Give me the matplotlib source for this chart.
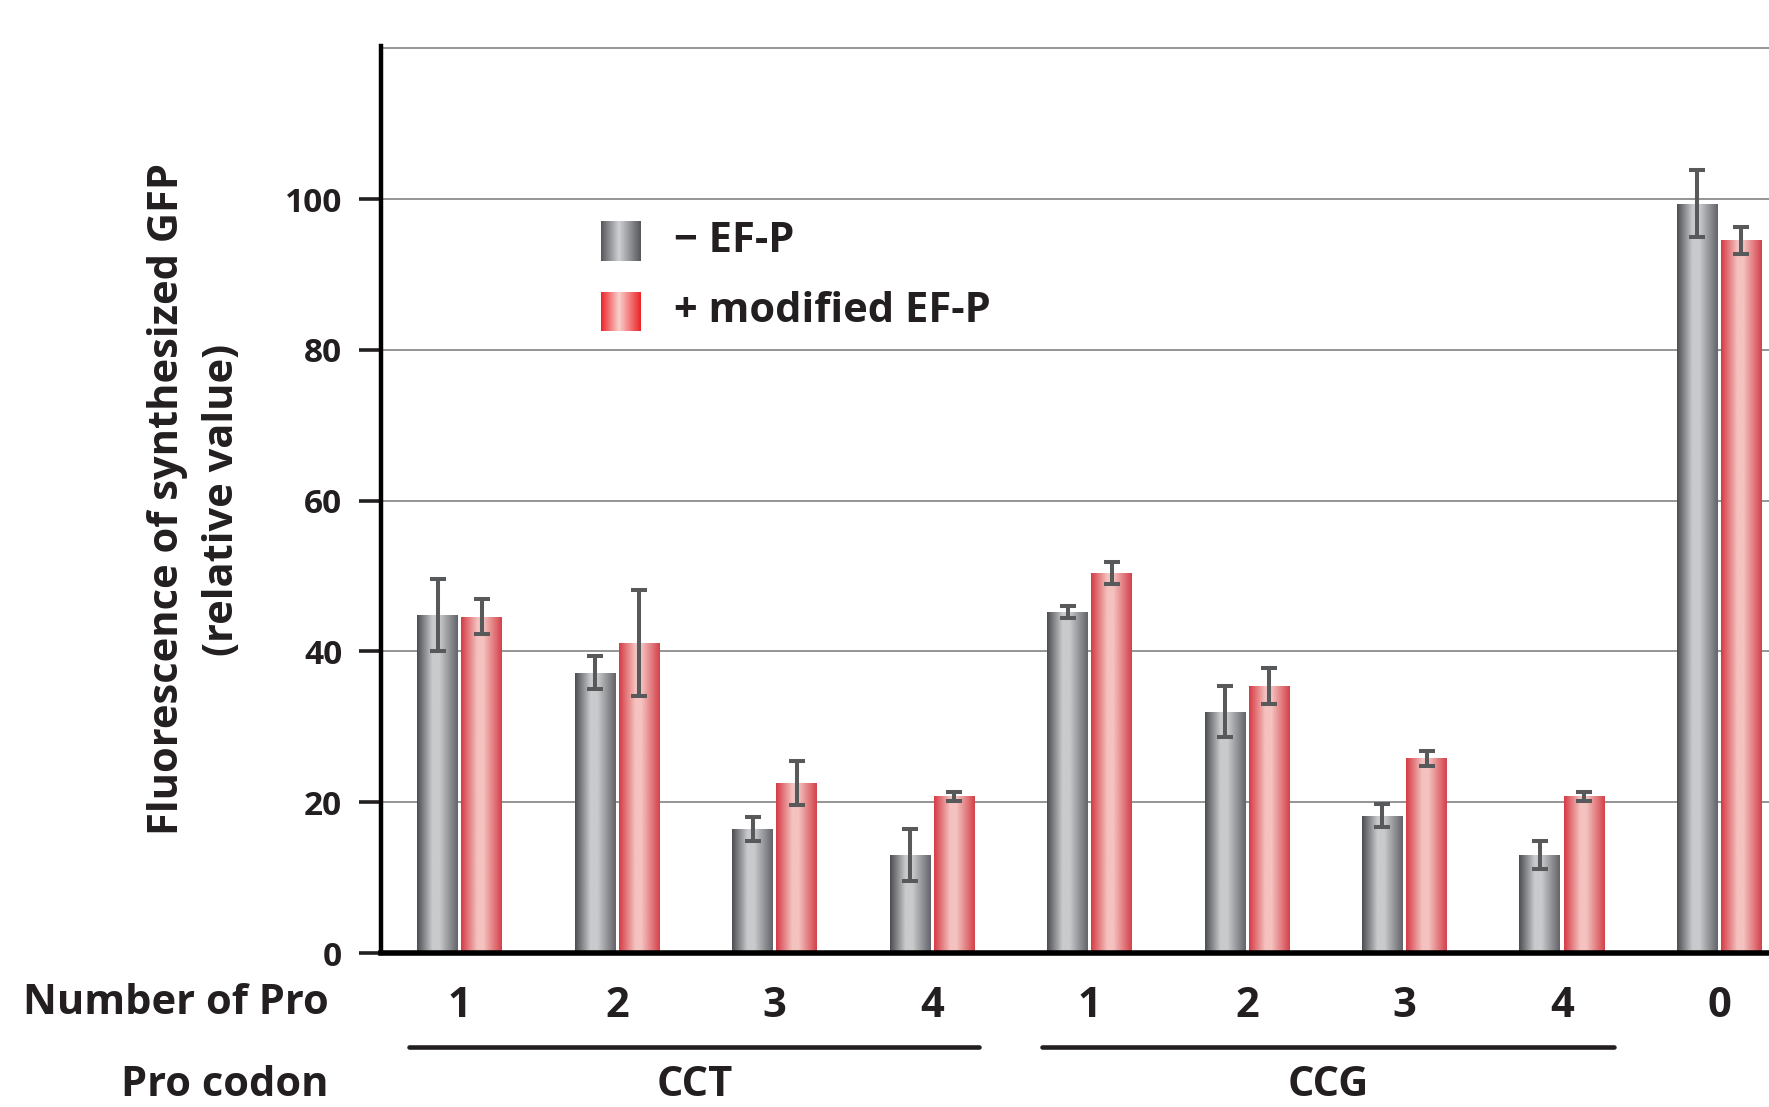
import numpy as np
import matplotlib
matplotlib.use("Agg")
import matplotlib.pyplot as plt
from matplotlib.colors import LinearSegmentedColormap

plt.rcParams['font.family'] = ['Open Sans', 'DejaVu Sans']
plt.rcParams['font.weight'] = 'bold'
plt.rcParams['axes.labelweight'] = 'bold'

# data
num_pro = ['1', '2', '3', '4', '1', '2', '3', '4', '0']
codons = ['CCT', 'CCG']
minus_efp = [44.8, 37.2, 16.4, 13.0, 45.2, 32.0, 18.2, 13.0, 99.4]
minus_err = [4.8, 2.2, 1.6, 3.4, 0.8, 3.4, 1.5, 1.9, 4.4]
plus_efp = [44.6, 41.1, 22.5, 20.8, 50.4, 35.4, 25.8, 20.8, 94.5]
plus_err = [2.3, 7.0, 2.9, 0.6, 1.5, 2.4, 1.0, 0.6, 1.8]
grid_levels = [20, 40, 60, 80, 100, 120]
yticks = [0, 20, 40, 60, 80, 100]

gray_cmap = LinearSegmentedColormap.from_list(
    'g', [(0, '#4b4d51'), (0.38, '#c9cacc'), (0.55, '#c9cacc'), (1, '#62646a')])
red_cmap = LinearSegmentedColormap.from_list(
    'r', [(0, '#d53a44'), (0.4, '#f4c2bf'), (0.55, '#f4c2bf'), (1, '#d3414a')])
gray_leg = LinearSegmentedColormap.from_list(
    'gl', [(0, '#55575b'), (0.45, '#cfd0d2'), (1, '#55575b')])
red_leg = LinearSegmentedColormap.from_list(
    'rl', [(0, '#ec2327'), (0.45, '#f9d0cc'), (1, '#ec2327')])

grad = np.linspace(0, 1, 256).reshape(1, -1)
txt = '#231f20'

fig = plt.figure(figsize=(17.69, 11.07), dpi=100)
ax = fig.add_axes([0.2154, 0.1391, 0.7846, 0.8194])

x = np.arange(len(num_pro))
w = 0.26
off = 0.14

for lvl in grid_levels:
    ax.axhline(lvl, color='#8c8c8c', lw=1.3, zorder=0)

def gradient_bars(xpos, vals, cmap):
    bars = ax.bar(xpos, vals, width=w, color='none', zorder=2)
    for b in bars:
        x0, y0 = b.get_x(), b.get_y()
        im = ax.imshow(grad, cmap=cmap, aspect='auto', zorder=2,
                       extent=(x0, x0 + b.get_width(), y0, y0 + b.get_height()))
        im.set_clip_path(b)

gradient_bars(x - off, minus_efp, gray_cmap)
gradient_bars(x + off, plus_efp, red_cmap)

ekw = dict(fmt='none', ecolor='#58595b', elinewidth=2.9, capsize=5.8, capthick=2.9, zorder=3)
ax.errorbar(x - off, minus_efp, yerr=minus_err, **ekw)
ax.errorbar(x + off, plus_efp, yerr=plus_err, **ekw)

for s in ['top', 'right']:
    ax.spines[s].set_visible(False)
ax.spines['left'].set_linewidth(3.2)
ax.spines['bottom'].set_linewidth(4)
ax.spines['left'].set_zorder(5)
ax.spines['bottom'].set_zorder(5)

ax.set_yticks(yticks)
ax.tick_params(axis='y', length=16, width=2.6, pad=12, labelsize=24, color=txt, labelcolor=txt)
ax.set_xticks(x)
ax.set_xticklabels(num_pro)
ax.tick_params(axis='x', length=0, pad=24, labelsize=30, labelcolor=txt)

ax.set_ylabel('Fluorescence of synthesized GFP\n(relative value)', fontsize=30,
              fontweight='bold', linespacing=1.45, labelpad=30, color=txt)

tr = ax.get_xaxis_transform()
ax.text(-0.038, -0.056, 'Number of Pro', transform=ax.transAxes, ha='right', va='center',
        fontsize=30, color=txt)
ax.text(-0.038, -0.146, 'Pro codon', transform=ax.transAxes, ha='right', va='center',
        fontsize=30, color=txt, clip_on=False)

spans = [(-0.32, 3.30), (3.70, 7.33)]
for (a, b), name in zip(spans, codons):
    ax.plot([a, b], [-0.1036, -0.1036], transform=tr, color=txt, lw=3.3,
            solid_capstyle='round', clip_on=False)
    ax.text((a + b) / 2, -0.146, name, transform=tr, ha='center', va='center',
            fontsize=30, color=txt, clip_on=False)

# legend
labels = ['\u2212 EF-P', '+ modified EF-P']
leg_maps = [gray_leg, red_leg]
leg_y = [(0.763, 0.806), (0.686, 0.728)]
for lab, cm, (yb, yt) in zip(labels, leg_maps, leg_y):
    ax.imshow(grad, cmap=cm, aspect='auto', extent=(0.1585, 0.1866, yb, yt),
              transform=ax.transAxes, zorder=4)
    ax.text(0.2108, (yb + yt) / 2, lab, transform=ax.transAxes, ha='left', va='center',
            fontsize=30, color=txt)

ax.set_xlim(-0.5, 8.315)
ax.set_ylim(0, 120.3)

fig.savefig('out.png', dpi=100)
